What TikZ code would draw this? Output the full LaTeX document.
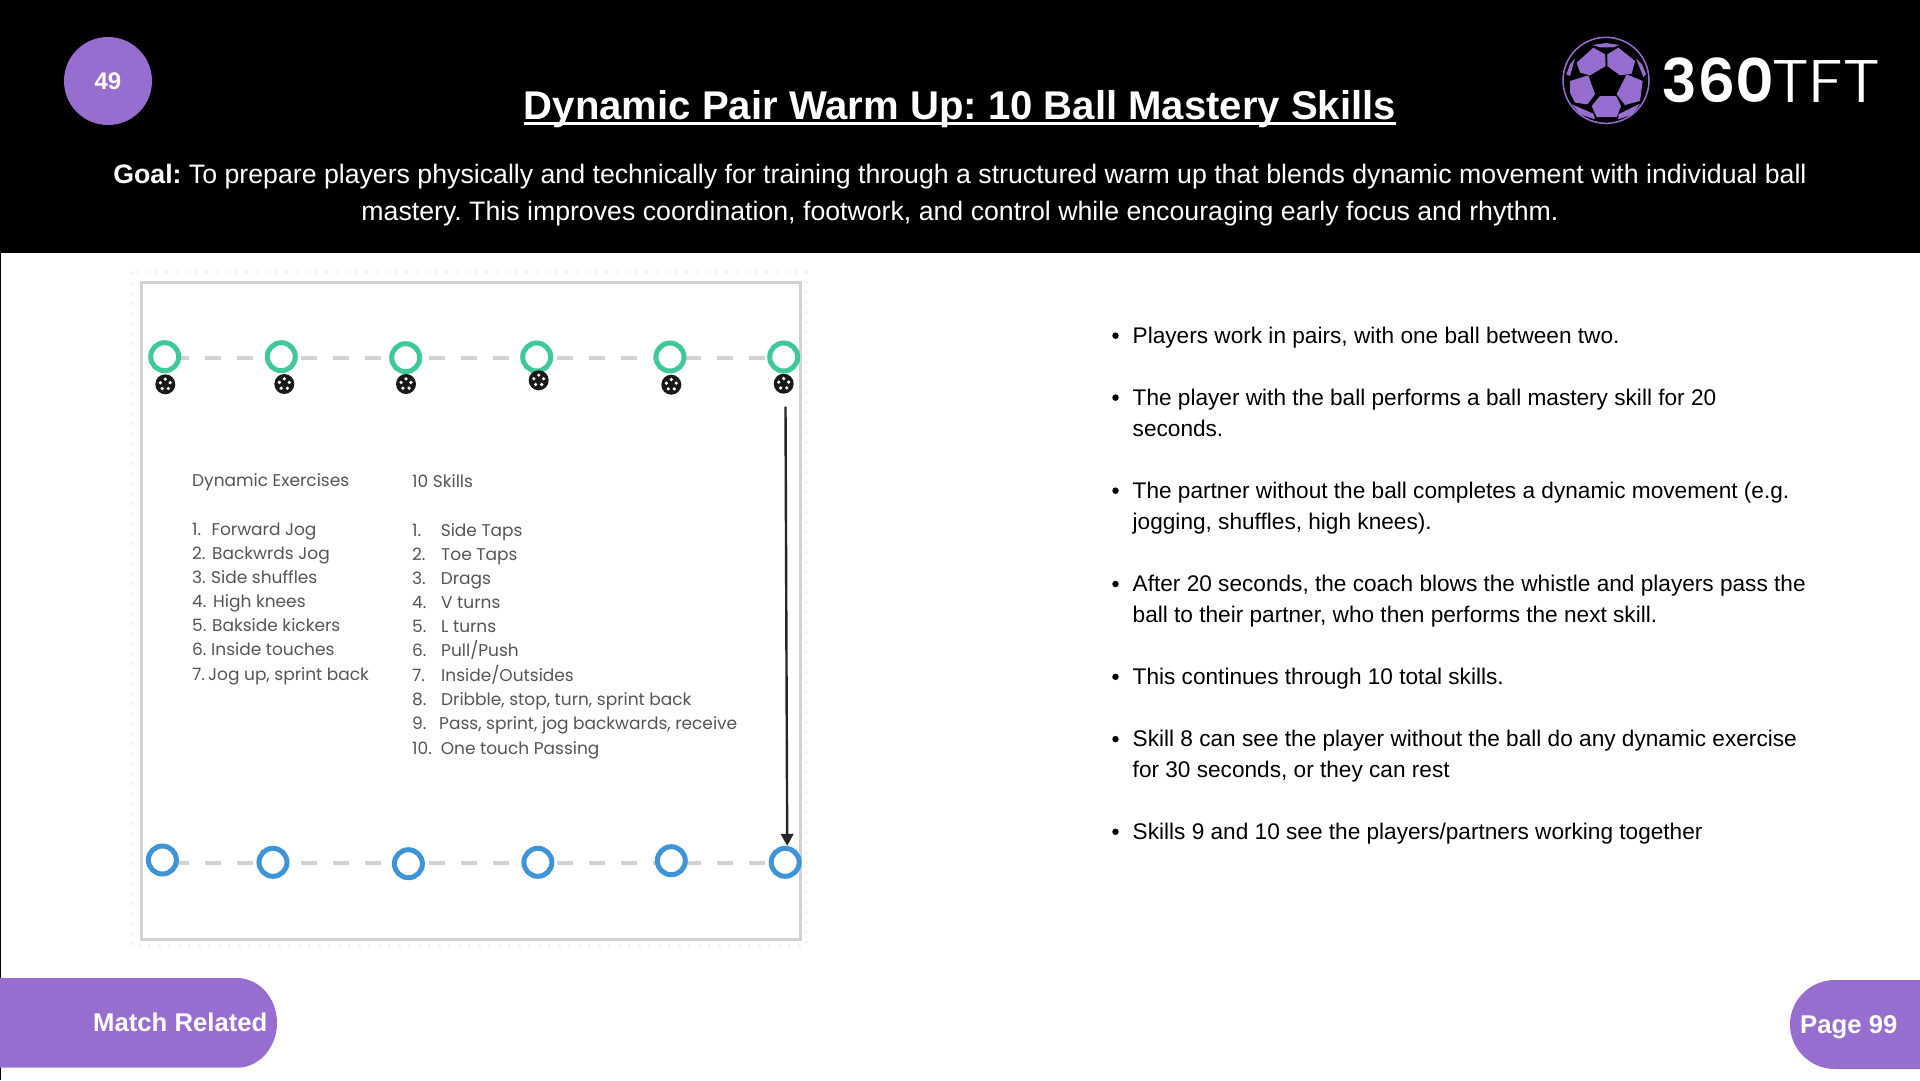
\documentclass[tikz,border=0pt]{standalone}
\usepackage{graphicx}
\usepackage{fontspec}
\setmainfont{Liberation Sans}
\newfontfamily\listfont{Poppins}
\newfontfamily\logoA{Poppins}[UprightFont=* SemiBold]
\newfontfamily\logoB{Poppins}[UprightFont=* Light]
\usetikzlibrary{backgrounds,arrows.meta}
\definecolor{purp}{HTML}{976DD0}
\definecolor{frameg}{HTML}{D2D2D6}
\definecolor{grn}{HTML}{3FC99A}
\definecolor{blu}{HTML}{3F94D8}
\definecolor{listc}{HTML}{555555}
\frenchspacing
\tikzset{
 fs/.style={font=\fontsize{#1}{#1}\selectfont},
 greenring/.style={circle,draw=grn,fill=white,line width=5pt,minimum size=28pt,inner sep=0pt},
 bluering/.style={circle,draw=blu,fill=white,line width=5pt,minimum size=28pt,inner sep=0pt},
 ballmark/.style={circle,fill=black!90,minimum size=20pt,inner sep=0pt},
 dashline/.style={draw=frameg,line width=4pt,dash pattern=on 16pt off 16pt},
 listtext/.style={anchor=base west,inner sep=0pt,text=listc,font=\fontsize{17}{17}\selectfont\listfont},
 bullettext/.style={anchor=base west,inner sep=0pt,text=black,fs=22.63},
 bulletdot/.style={circle,fill=black,minimum size=6.5pt,inner sep=0pt},
 hexa/.style={fill=purp,draw=none},
}
\newcommand{\ballat}[3]{%
 \node[ballmark] (#1) at (#2,#3) {};
 \foreach \a in {90,162,234,306,18}{\fill[white] (#1.center) ++(\a:5.2pt) circle (1.8pt);}
}
\newcommand{\bullitem}[3]{%
 \node[bulletdot] (#1) at (1115.5,#2-7.5) {};
 \node[bullettext] (#1t) at (1132.5,#2) {#3};
}
\begin{document}
\begin{tikzpicture}[x=1pt,y=-1pt]
\useasboundingbox (0,0) rectangle (1920,1080);
% rings and balls
\node[greenring] (g1) at (164.7,356.7) {};
\node[greenring] (g2) at (281.3,356.7) {};
\node[greenring] (g3) at (405.7,357.7) {};
\node[greenring] (g4) at (536.7,357) {};
\node[greenring] (g5) at (670,357) {};
\node[greenring] (g6) at (783.7,357) {};
\node[bluering] (b1) at (162.4,860) {};
\node[bluering] (b2) at (273,862.3) {};
\node[bluering] (b3) at (408.4,863.7) {};
\node[bluering] (b4) at (537.9,862.3) {};
\node[bluering] (b5) at (671.3,860.7) {};
\node[bluering] (b6) at (785.2,862.3) {};
\ballat{m1}{165.3}{384.3}
\ballat{m2}{284.3}{384}
\ballat{m3}{406}{384}
\ballat{m4}{538.7}{380.3}
\ballat{m5}{671.3}{384.7}
\ballat{m6}{783.7}{383.7}
\begin{scope}[on background layer]
 \fill[white] (0,0) rectangle (1920,1080);
 \draw[draw=black!4,line width=4pt,dash pattern=on 3pt off 7pt] (132,272) rectangle (806,946);
 \draw[draw=frameg,line width=3pt] (141.5,282) rectangle (800.5,939);
 \draw[dashline,dash phase=23.7pt] ([yshift=-1pt]g1.center) -- ([yshift=-0.7pt]g6.center);
 \draw[dashline,dash phase=21.4pt] ([yshift=-3.3pt]b1.center) -- ([yshift=-1pt]b6.center);
\end{scope}
\coordinate (astart) at (785.5,406.7);
\draw[draw=black!85,line width=2.4pt,-{Triangle[length=12pt,width=12.5pt]}] (astart) -- ([xshift=2pt]b6.north);
% left list
\node[listtext] (dh) at (192,486) {Dynamic Exercises};
\foreach \n/\y/\tx/\t in {1/535.7/211.3/{Forward Jog},2/559.3/212/{Backwrds Jog},3/583.3/211/{Side shuffles},4/607.7/213/{High knees},5/631.7/212/{Bakside kickers},6/655.7/211/{Inside touches},7/680.7/208/{Jog up, sprint back}}{
 \node[listtext] (ln\n) at (192,\y) {\n.};
 \node[listtext] (lt\n) at (\tx,\y) {\t};
}
% right list
\node[listtext] (sh) at (412,487.2) {10 Skills};
\foreach \n/\y/\tx/\t in {1/536.8/440.6/{Side Taps},2/560.5/441/{Toe Taps},3/584.5/440.6/{Drags},4/608.8/441/{V turns},5/632.8/441/{L turns},6/656.8/441/{Pull/Push},7/681.2/441/{Inside/Outsides},8/705.5/441/{Dribble, stop, turn, sprint back},9/729.5/439/{Pass, sprint, jog backwards, receive},10/754.5/440.6/{One touch Passing}}{
 \node[listtext] (rn\n) at (412,\y) {\n.};
 \node[listtext] (rt\n) at (\tx,\y) {\t};
}
% bullets
\bullitem{i1}{343.2}{Players work in pairs, with one ball between two.}
\bullitem{i2}{405.1}{The player with the ball performs a ball mastery skill for 20}
\node[bullettext] (i2b) at (1132.5,436) {seconds.};
\bullitem{i3}{498.2}{The partner without the ball completes a dynamic movement (e.g.}
\node[bullettext] (i3b) at (1132.5,529) {jogging, shuffles, high knees).};
\bullitem{i4}{591.5}{After 20 seconds, the coach blows the whistle and players pass the}
\node[bullettext] (i4b) at (1132.5,622.3) {ball to their partner, who then performs the next skill.};
\bullitem{i5}{684.3}{This continues through 10 total skills.}
\bullitem{i6}{746.6}{Skill 8 can see the player without the ball do any dynamic exercise}
\node[bullettext] (i6b) at (1132.5,777.3) {for 30 seconds, or they can rest};
\bullitem{i7}{839.3}{Skills 9 and 10 see the players/partners working together}
% pills and left edge
\fill[black] (0,253) rectangle (1.2,1080);
\fill[purp] (0,978) -- (237,978) arc[start angle=90,end angle=-90,x radius=40,y radius=-44.85] -- (0,1067.7) -- cycle;
\fill[purp] (1920,980) -- (1835,980) arc[start angle=90,end angle=270,x radius=45,y radius=-44.5] -- (1920,1069) -- cycle;
\node[anchor=base west,inner sep=0pt,text=white,font=\fontsize{25.7}{26}\selectfont\bfseries] (mr) at (93,1031.5) {Match Related};
\node[anchor=base west,inner sep=0pt,text=white,font=\fontsize{25.7}{26}\selectfont\bfseries] (pg) at (1800,1033.5) {Page 99};
% header
\fill[black] (0,0) rectangle (1920,253);
\node[circle,fill=purp,minimum size=88pt,inner sep=0pt] (num) at (108,81) {};
\node[anchor=base,inner sep=0pt,text=white,font=\fontsize{24}{24}\selectfont\bfseries] (numt) at (108,89.3) {49};
\node[anchor=base,inner sep=0pt,text=white,font=\fontsize{40.1}{40}\selectfont\bfseries] (title) at (960,119) {Dynamic Pair Warm Up: 10 Ball Mastery Skills};
\draw[white,line width=2.7pt] ([yshift=-4.2pt]title.base west) -- ([yshift=-4.2pt]title.base east);
\node[anchor=base,inner sep=0pt,text=white,fs=26.7] (goal1) at (960,183.5) {\textbf{Goal:} To prepare players physically and technically for training through a structured warm up that blends dynamic movement with individual ball};
\node[anchor=base,inner sep=0pt,text=white,fs=26.7] (goal2) at (960,220) {mastery. This improves coordination, footwork, and control while encouraging early focus and rhythm.};
% logo
\begin{scope}[shift={(1550,31)},x=0.33333pt,y=-0.33333pt]
 \draw[purp,line width=1.5pt] (168,148) circle (43pt);
 \fill[hexa] (80,95)--(130,50)--(165,70)--(167,105)--(120,133)--(90,125)--cycle;
 \fill[hexa] (172,70)--(205,50)--(255,90)--(245,128)--(210,133)--(172,105)--cycle;
 \fill[hexa] (60,150)--(115,133)--(135,190)--(112,220)--(75,215)--(60,185)--cycle;
 \fill[hexa] (230,130)--(278,150)--(270,210)--(225,222)--(200,190)--cycle;
 \fill[hexa] (150,195)--(198,195)--(213,225)--(200,258)--(140,258)--(125,225)--cycle;
 \fill[hexa] (128,42)--(168,36)--(208,42)--(190,49)--(150,49)--cycle;
 \fill[hexa] (75,82)--(60,135)--(49,130)--(60,100)--cycle;
 \fill[hexa] (258,82)--(280,138)--(288,130)--(276,100)--cycle;
 \fill[hexa] (66,220)--(130,248)--(135,265)--(90,250)--cycle;
 \fill[hexa] (270,218)--(205,250)--(205,265)--(248,250)--cycle;
\end{scope}
\node[anchor=base west,inner sep=0pt,text=white,font=\fontsize{60}{60}\selectfont\logoA] (l360) at (1661,102) {360};
\node[anchor=base west,inner sep=0pt,text=white,font=\fontsize{60}{60}\selectfont\logoB] (ltft) at (1772,102) {\scalebox{1.17}[1]{TFT}};
\end{tikzpicture}
\end{document}
